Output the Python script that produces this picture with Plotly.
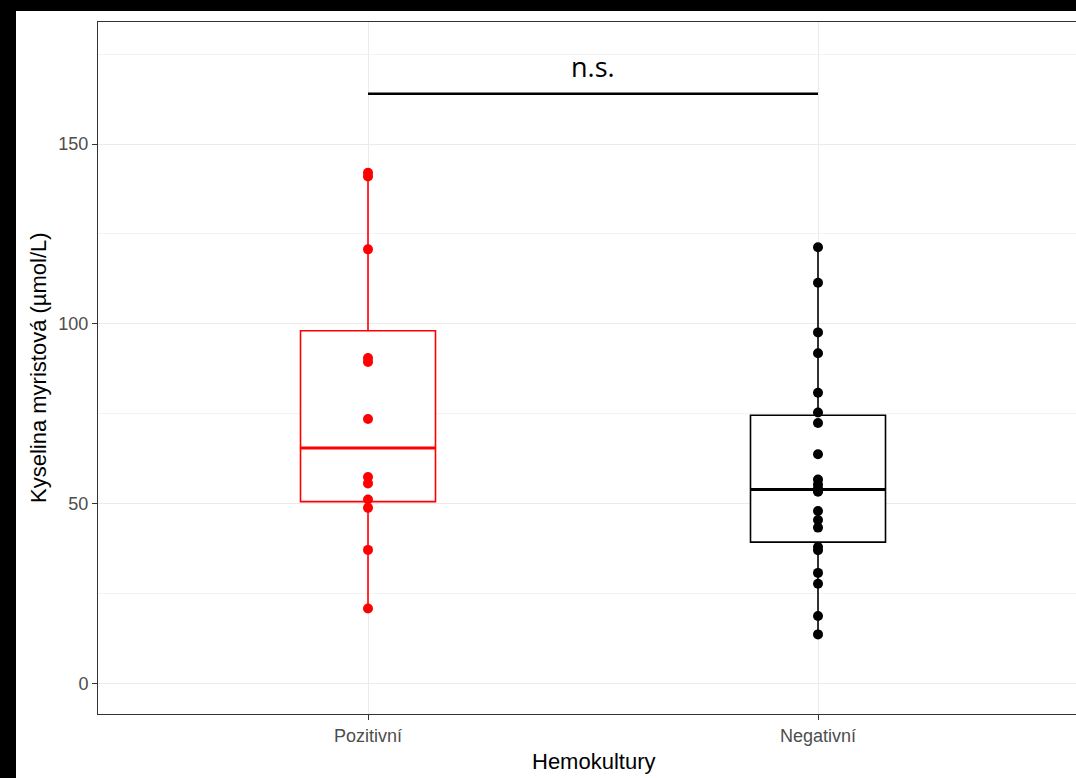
import numpy as np
import plotly.graph_objects as go

# Myristic acid concentration (µmol/L) by blood culture result
categories = ["Pozitivní", "Negativní"]
pozitivni = [142.0, 141.0, 120.7, 90.5, 89.4, 73.5, 57.4, 55.6, 51.1, 48.8, 37.1, 20.8]
negativni = [121.3, 111.4, 97.6, 91.8, 80.8, 75.3, 72.4, 63.7, 56.7, 55.3, 54.2,
             53.6, 53.3, 47.9, 45.4, 43.3, 37.9, 37.0, 30.7, 27.7, 18.7, 13.6]
series = [pozitivni, negativni]
colors = ["#FF0000", "#000000"]

# significance bracket between the two groups
bracket_y = 164.0
bracket_label = "n.s."
label_y = 171.6

y_ticks = [0, 50, 100, 150]

W, H = 1076, 778
ML, MR, MT, MB = 98, 0, 22, 64
PW, PH = W - ML - MR, H - MT - MB
box_w = 0.3


def px_to_paper_y(py):
    return (H - MB - py) / PH


def px_to_paper_x(px):
    return (px - ML) / PW


fig = go.Figure()

for i, (vals, col) in enumerate(zip(series, colors)):
    pos = i + 1
    v = np.asarray(vals)
    q1, med, q3 = np.percentile(v, [25, 50, 75])
    iqr = q3 - q1
    lo = v[v >= q1 - 1.5 * iqr].min()
    hi = v[v <= q3 + 1.5 * iqr].max()
    fig.add_trace(go.Box(
        x=[pos], q1=[q1], median=[med], q3=[q3],
        lowerfence=[lo], upperfence=[hi],
        width=box_w, whiskerwidth=0,
        line=dict(color=col, width=1.6),
        fillcolor="white", boxpoints=False,
        showlegend=False, hoverinfo="skip",
    ))
    # thicker median bar
    fig.add_trace(go.Scatter(
        x=[pos - box_w / 2, pos + box_w / 2], y=[med, med],
        mode="lines", line=dict(color=col, width=3.2),
        showlegend=False, hoverinfo="skip",
    ))
    fig.add_trace(go.Scatter(
        x=[pos] * len(vals), y=vals, mode="markers",
        marker=dict(color=col, size=10, line=dict(width=0)),
        showlegend=False,
    ))

fig.add_trace(go.Scatter(
    x=[1, 2], y=[bracket_y, bracket_y], mode="lines",
    line=dict(color="black", width=2.4),
    showlegend=False, hoverinfo="skip",
))

annotations = [
    dict(x=1.5, y=label_y, xref="x", yref="y", text=bracket_label,
         showarrow=False, xanchor="center", yanchor="middle",
         font=dict(family="Open Sans", size=27, color="black")),
    dict(x=1.5, y=px_to_paper_y(761), xref="x", yref="paper", text="Hemokultury",
         showarrow=False, xanchor="center", yanchor="middle",
         font=dict(family="Liberation Sans", size=22, color="black")),
    dict(x=px_to_paper_x(38), y=0.5, xref="paper", yref="paper",
         text="Kyselina myristová (µmol/L)", showarrow=False, textangle=-90,
         xanchor="center", yanchor="middle",
         font=dict(family="Liberation Sans", size=22, color="black")),
]

shapes = [
    # dark frame strips along the top and left edges of the page
    dict(type="rect", xref="paper", yref="paper", layer="above",
         x0=px_to_paper_x(0) - 0.01, x1=1.01,
         y0=px_to_paper_y(11), y1=px_to_paper_y(0) + 0.01,
         fillcolor="black", line=dict(width=0)),
    dict(type="rect", xref="paper", yref="paper", layer="above",
         x0=px_to_paper_x(0) - 0.01, x1=px_to_paper_x(16),
         y0=px_to_paper_y(H) - 0.01, y1=px_to_paper_y(0) + 0.01,
         fillcolor="black", line=dict(width=0)),
]

fig.update_layout(
    width=W, height=H,
    margin=dict(l=ML, r=MR, t=MT, b=MB, pad=0),
    paper_bgcolor="white", plot_bgcolor="white",
    font=dict(family="Liberation Sans", color="#4D4D4D"),
    annotations=annotations, shapes=shapes,
    showlegend=False,
)

fig.update_xaxes(
    range=[0.4, 2.6 - 12 / 450],
    tickvals=[1, 2], ticktext=categories,
    tickfont=dict(size=18, color="#4D4D4D"),
    ticks="outside", ticklen=5, tickcolor="#333333", tickwidth=1,
    showgrid=True, gridcolor="#EBEBEB", gridwidth=1,
    showline=True, linecolor="#333333", linewidth=1, mirror=True,
    zeroline=False,
)
fig.update_yaxes(
    range=[-8.55, 183.95],
    tickvals=y_ticks,
    tickfont=dict(size=18, color="#4D4D4D"),
    ticks="outside", ticklen=5, tickcolor="#333333", tickwidth=1,
    showgrid=True, gridcolor="#EBEBEB", gridwidth=1,
    minor=dict(dtick=25, tick0=0, showgrid=True, gridcolor="#F3F3F3", gridwidth=1, ticks=""),
    showline=True, linecolor="#333333", linewidth=1, mirror=False,
    zeroline=False,
)

fig.write_html("out.html")
